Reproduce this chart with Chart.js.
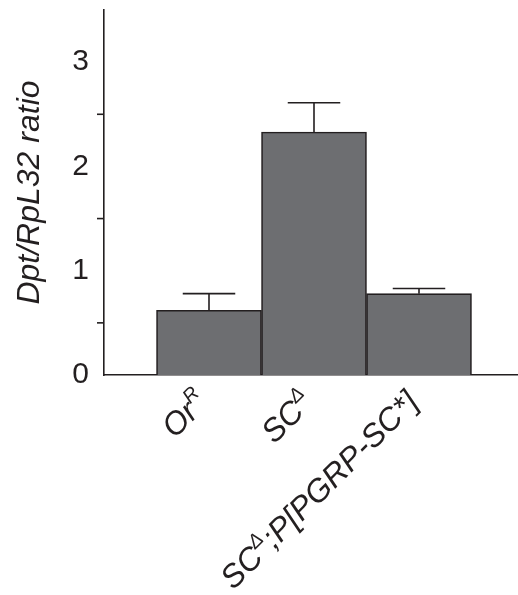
<!DOCTYPE html>
<html>
<head>
<meta charset="utf-8">
<script src="https://cdn.jsdelivr.net/npm/chart.js@4"></script>
<style>
  html, body { margin: 0; padding: 0; overflow: hidden; background: #fff; }
  #wrap { width: 530px; height: 595px; }
</style>
</head>
<body>
<div id="wrap"><canvas id="chart"></canvas></div>
<script>
const categories = ['OrR', 'SCΔ', 'SCΔ;P[PGRP-SC*]']
const superscripts = ['R', 'Δ', 'Δ']
const positions = [1, 2, 3]
const values = [0.62, 2.33, 0.78]
const errors = [0.16, 0.28, 0.05]
const yTicks = [0, 1, 2, 3]
const yMinorTicks = [0.5, 1.5, 2.5]

const ink = '#231f20'
const font = '"Liberation Sans", Arial, sans-serif'

// error bars, minor ticks and rotated labels with superscripts
const extras = {
  id: 'extras',
  afterDatasetsDraw(chart) {
    const ctx = chart.ctx
    const x = chart.scales.x
    const y = chart.scales.y
    const meta = chart.getDatasetMeta(0)
    ctx.save()
    ctx.strokeStyle = ink
    ctx.lineWidth = 1.6
    meta.data.forEach((bar, i) => {
      const top = y.getPixelForValue(values[i])
      const end = y.getPixelForValue(values[i] + errors[i])
      const half = bar.width / 4
      ctx.beginPath()
      ctx.moveTo(bar.x, top)
      ctx.lineTo(bar.x, end)
      ctx.moveTo(bar.x - half, end)
      ctx.lineTo(bar.x + half, end)
      ctx.stroke()
    })
    yMinorTicks.forEach(v => {
      const py = y.getPixelForValue(v)
      ctx.beginPath()
      ctx.moveTo(x.left - 7, py)
      ctx.lineTo(x.left, py)
      ctx.stroke()
    })
    ctx.restore()
  },
  afterDraw(chart) {
    const ctx = chart.ctx
    const x = chart.scales.x
    const base = chart.chartArea.bottom
    const size = 32
    ctx.save()
    ctx.fillStyle = ink
    categories.forEach((label, i) => {
      const sup = superscripts[i]
      const cut = label.indexOf(sup)
      const parts = [
        [label.slice(0, cut), false],
        [sup, true],
        [label.slice(cut + sup.length), false]
      ]
      const widths = parts.map(([t, s]) => {
        ctx.font = 'italic ' + (s ? size * 0.62 : size) + 'px ' + font
        return ctx.measureText(t).width
      })
      const total = widths.reduce((a, b) => a + b, 0)
      ctx.save()
      ctx.translate(x.getPixelForValue(positions[i]) + 1, base + 29)
      ctx.rotate(-Math.PI / 4)
      ctx.textBaseline = 'alphabetic'
      ctx.textAlign = 'left'
      let cx = -total
      parts.forEach(([t, s], k) => {
        ctx.font = 'italic ' + (s ? size * 0.62 : size) + 'px ' + font
        ctx.fillText(t, cx, s ? -size * 0.42 : 0)
        cx += widths[k]
      })
      ctx.restore()
    })
    ctx.restore()
  }
}

new Chart(document.getElementById('chart'), {
  type: 'bar',
  data: {
    datasets: [{
      data: positions.map((p, i) => ({ x: p, y: values[i] })),
      backgroundColor: '#6d6e71',
      borderColor: ink,
      borderWidth: 1.6,
      borderSkipped: 'bottom',
      barPercentage: 1,
      categoryPercentage: 1
    }]
  },
  options: {
    responsive: true,
    maintainAspectRatio: false,
    animation: false,
    layout: { padding: { left: 0, top: 10, right: 6, bottom: 220 } },
    scales: {
      x: {
        type: 'linear',
        offset: false,
        min: 0,
        max: 4,
        afterBuildTicks: scale => { scale.ticks = [0, 1, 2, 3, 4].map(v => ({ value: v })) },
        grid: { display: false, drawTicks: false },
        border: { color: ink, width: 1.6 },
        ticks: { display: false }
      },
      y: {
        min: 0,
        max: 3.5,
        afterBuildTicks: scale => { scale.ticks = yTicks.map(v => ({ value: v })) },
        afterFit: scale => {
          scale.width = 104
          scale.paddingTop = 0
          scale.paddingBottom = 0
        },
        grid: { display: false, drawTicks: true, tickLength: 11, tickColor: ink, tickWidth: 1.6 },
        border: { color: ink, width: 1.6 },
        ticks: { color: ink, padding: 4, font: { family: font, size: 30 } },
        title: {
          display: true,
          text: 'Dpt/RpL32 ratio',
          color: ink,
          padding: { top: 11, bottom: 0 },
          font: { family: font, size: 32, style: 'italic' }
        }
      }
    },
    plugins: {
      legend: false,
      tooltip: { enabled: false }
    }
  },
  plugins: [extras]
})
</script>
</body>
</html>
